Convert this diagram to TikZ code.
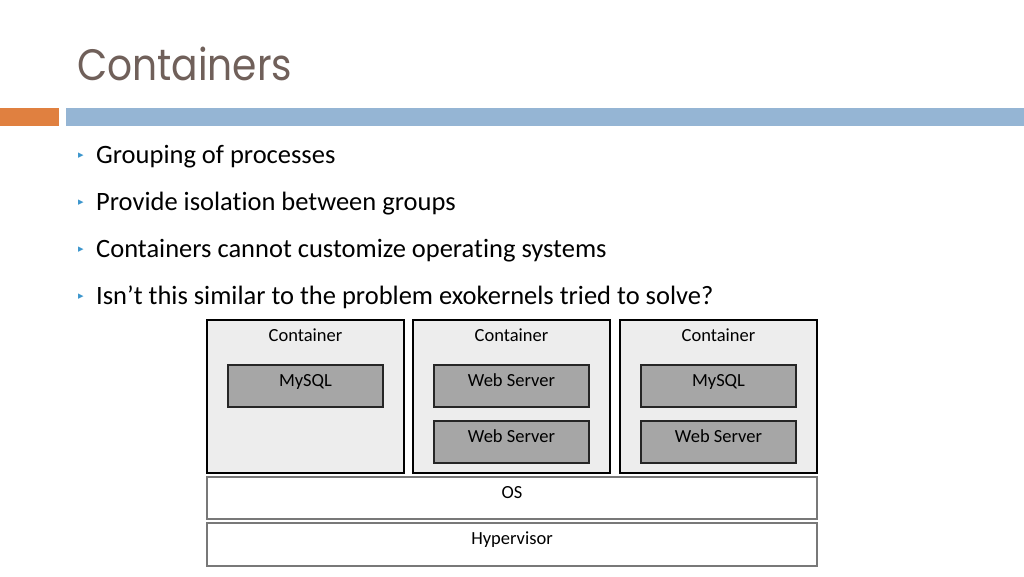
\documentclass[tikz,border=0pt]{standalone}
\usepackage{fontspec}
\setmainfont[Ligatures=NoCommon]{Carlito}
\newfontfamily\titlefont{Poppins}
\newfontfamily\symfont{DejaVu Sans}
\definecolor{titlecol}{RGB}{112,96,90}
\definecolor{orangebar}{RGB}{224,128,64}
\definecolor{bluebar}{RGB}{149,181,212}
\definecolor{bulletcol}{RGB}{60,150,205}
\definecolor{contfill}{RGB}{237,237,237}
\definecolor{appfill}{RGB}{166,166,166}
\definecolor{layerborder}{RGB}{120,120,120}
\begin{document}
\begin{tikzpicture}[x=1pt,y=-1pt,
  container/.style={draw=black,line width=1.6pt,fill=contfill,minimum width=197pt,minimum height=153pt,inner sep=0pt},
  app/.style={draw=black!85,line width=1.6pt,fill=appfill,minimum width=155pt,minimum height=42pt,inner sep=0pt},
  layer/.style={draw=layerborder,line width=1.8pt,fill=white,minimum width=610pt,inner sep=0pt},
  lbl/.style={font=\fontsize{18.5}{20}\selectfont,text=black,anchor=base,inner sep=0pt},
  bul/.style={font=\fontsize{26.5}{30}\selectfont,anchor=base west,inner sep=0pt},
  bmark/.style={font=\symfont\fontsize{11}{12}\selectfont,text=bulletcol,inner sep=0pt}]
\useasboundingbox (0,0) rectangle (1024,576);
\fill[white] (0,0) rectangle (1024,576);
% title
\node[anchor=west,inner sep=0pt,text=titlecol,font=\titlefont\fontsize{44}{50}\selectfont,xscale=0.89] (title) at (77,64) {Containers};
\fill[orangebar] (0,108) rectangle (59,126);
\fill[bluebar] (66,108) rectangle (1024,126);
% bullets
\foreach \y/\t/\n in {163/Grouping of processes/b1,210/Provide isolation between groups/b2,257/Containers cannot customize operating systems/b3,304/Isn’t this similar to the problem exokernels tried to solve?/b4}{
  \node[bmark] (m\n) at (81,\y-7) {▸};
  \node[bul] (\n) at (96,\y) {\t};
}
% containers
\node[container] (c1) at (305.5,396.5) {};
\node[container] (c2) at (511.5,396.5) {};
\node[container] (c3) at (718.5,396.5) {};
\node[lbl] (c1l) at (305.5,341) {Container};
\node[lbl] (c2l) at (511.5,341) {Container};
\node[lbl] (c3l) at (718.5,341) {Container};
% apps
\node[app] (a11) at (305.5,386) {};
\node[lbl] (a11l) at (305.5,386) {MySQL};
\node[app] (a21) at (511.5,386) {};
\node[lbl] (a21l) at (511.5,386) {Web Server};
\node[app] (a22) at (511.5,442) {};
\node[lbl] (a22l) at (511.5,442) {Web Server};
\node[app] (a31) at (718.5,386) {};
\node[lbl] (a31l) at (718.5,386) {MySQL};
\node[app] (a32) at (718.5,442) {};
\node[lbl] (a32l) at (718.5,442) {Web Server};
% layers
\node[layer,minimum height=42pt] (os) at (512,498) {};
\node[lbl] (osl) at (512,498) {OS};
\node[layer,minimum height=43pt] (hv) at (512,544.5) {};
\node[lbl] (hvl) at (512,544) {Hypervisor};
\end{tikzpicture}
\end{document}
